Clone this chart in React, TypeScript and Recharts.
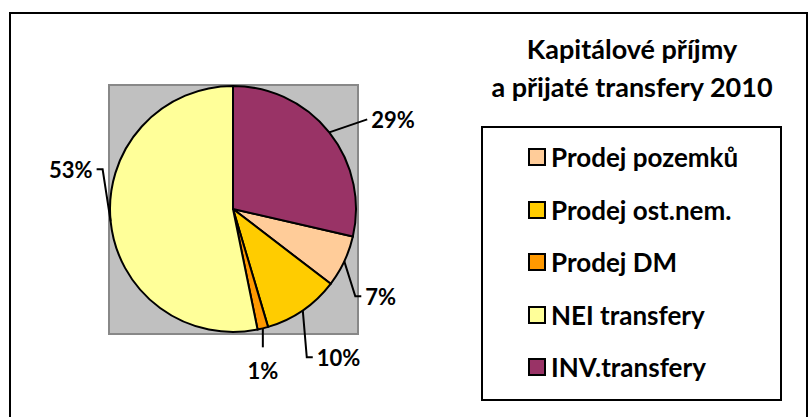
import React from "react";
import { PieChart, Pie, Cell, Legend } from "recharts";

// categories in legend order
const categories = ["Prodej pozemků", "Prodej ost.nem.", "Prodej DM", "NEI transfery", "INV.transfery"];
// share of capital income (%)
const shares = [6.8, 10.0, 1.4, 53.2, 28.6];
const sliceColors = ["#FFCC99", "#FFCC00", "#FF9900", "#FFFF99", "#993366"];
const titleLines = ["Kapitálové příjmy", "a přijaté transfery 2010"];

// label leader ends relative to slice edge (dx, dy)
const labelOffsets = [
  { dx: 17, dy: 35 },
  { dx: 10, dy: 47 },
  { dx: 0, dy: 19 },
  { dx: -14, dy: -52 },
  { dx: 38, dy: -13 },
];

const data = categories.map((name, i) => ({ name, value: shares[i] }));

const W = 809;
const H = 417;
const CX = 233;
const CY = 209;
const R = 123;
const FONT = "Lato, 'Open Sans', sans-serif";
const RAD = Math.PI / 180;

const renderLabel = (props: any) => {
  const { cx, cy, midAngle, outerRadius, percent, index } = props;
  const ex = cx + outerRadius * Math.cos(-midAngle * RAD);
  const ey = cy + outerRadius * Math.sin(-midAngle * RAD);
  const off = labelOffsets[index];
  const lx = ex + off.dx;
  const ly = ey + off.dy;
  const text = `${Math.round(percent * 100)}%`;
  if (off.dx === 0) {
    return (
      <g>
        <polyline points={`${ex},${ey} ${lx},${ly}`} fill="none" stroke="#000" strokeWidth={2} />
        <text x={lx} y={ly + 23} textAnchor="middle" dominantBaseline="central" fontFamily={FONT} fontWeight={700} fontSize={22} fill="#000">
          {text}
        </text>
      </g>
    );
  }
  const side = off.dx > 0 ? 1 : -1;
  const bx = off.dy > 0 || side < 0 ? lx - side * 6 : lx;
  return (
    <g>
      <polyline points={`${ex},${ey} ${bx},${ly} ${lx},${ly}`} fill="none" stroke="#000" strokeWidth={2} />
      <text x={lx + side * 4} y={ly} textAnchor={side > 0 ? "start" : "end"} dominantBaseline="central" fontFamily={FONT} fontWeight={700} fontSize={22} fill="#000">
        {text}
      </text>
    </g>
  );
};

const renderLegend = (props: any) => {
  const payload = [...(props.payload || [])].sort(
    (a: any, b: any) => categories.indexOf(a.value) - categories.indexOf(b.value)
  );
  return (
    <div
      style={{
        width: 297,
        height: 268,
        border: "2px solid #000",
        paddingTop: 3,
        boxSizing: "content-box",
        background: "#fff",
      }}
    >
      {payload.map((p: any, i: number) => (
        <div key={i} style={{ height: 52.5, display: "flex", alignItems: "center" }}>
          <span
            style={{
              display: "inline-block",
              width: 14,
              height: 14,
              marginLeft: 45,
              border: "2px solid #000",
              background: p.color,
            }}
          />
          <span style={{ marginLeft: 5, fontFamily: FONT, fontWeight: 700, fontSize: 26, color: "#000" }}>{p.value}</span>
        </div>
      ))}
    </div>
  );
};

export default function App() {
  return (
    <div style={{ position: "absolute", left: 0, top: 0, width: W, height: H, overflow: "hidden", background: "#fff" }}>
      <div style={{ position: "absolute", left: 9, top: 12, width: 795, height: 420, border: "2px solid #000" }} />
      <div
        style={{
          position: "absolute",
          left: CX - R - 2,
          top: CY - R - 2,
          width: 2 * R + 1,
          height: 2 * R + 1,
          background: "#C0C0C0",
          border: "2px solid #888",
        }}
      />
      <div
        style={{
          position: "absolute",
          left: 482,
          top: 30,
          width: 300,
          textAlign: "center",
          fontFamily: FONT,
          fontWeight: 700,
          fontSize: 27,
          lineHeight: "38px",
        }}
      >
        {titleLines.map((t) => (
          <div key={t} style={{ whiteSpace: "nowrap" }}>{t}</div>
        ))}
      </div>
      <div style={{ position: "absolute", left: 0, top: 0 }}>
        <PieChart width={W} height={H} margin={{ top: 0, right: 0, bottom: 0, left: 0 }}>
          <Pie
            data={data}
            dataKey="value"
            nameKey="name"
            cx={CX}
            cy={CY}
            outerRadius={R}
            startAngle={90 - shares[4] * 3.6}
            endAngle={90 - shares[4] * 3.6 - 360}
            stroke="#000"
            strokeWidth={2}
            label={renderLabel}
            labelLine={false}
            isAnimationActive={false}
          >
            {data.map((d, i) => (
              <Cell key={d.name} fill={sliceColors[i]} />
            ))}
          </Pie>
          <Legend
            content={renderLegend}
            layout="vertical"
            wrapperStyle={{ position: "absolute", left: 481, top: 126, width: 301, height: 272 }}
          />
        </PieChart>
      </div>
    </div>
  );
}
